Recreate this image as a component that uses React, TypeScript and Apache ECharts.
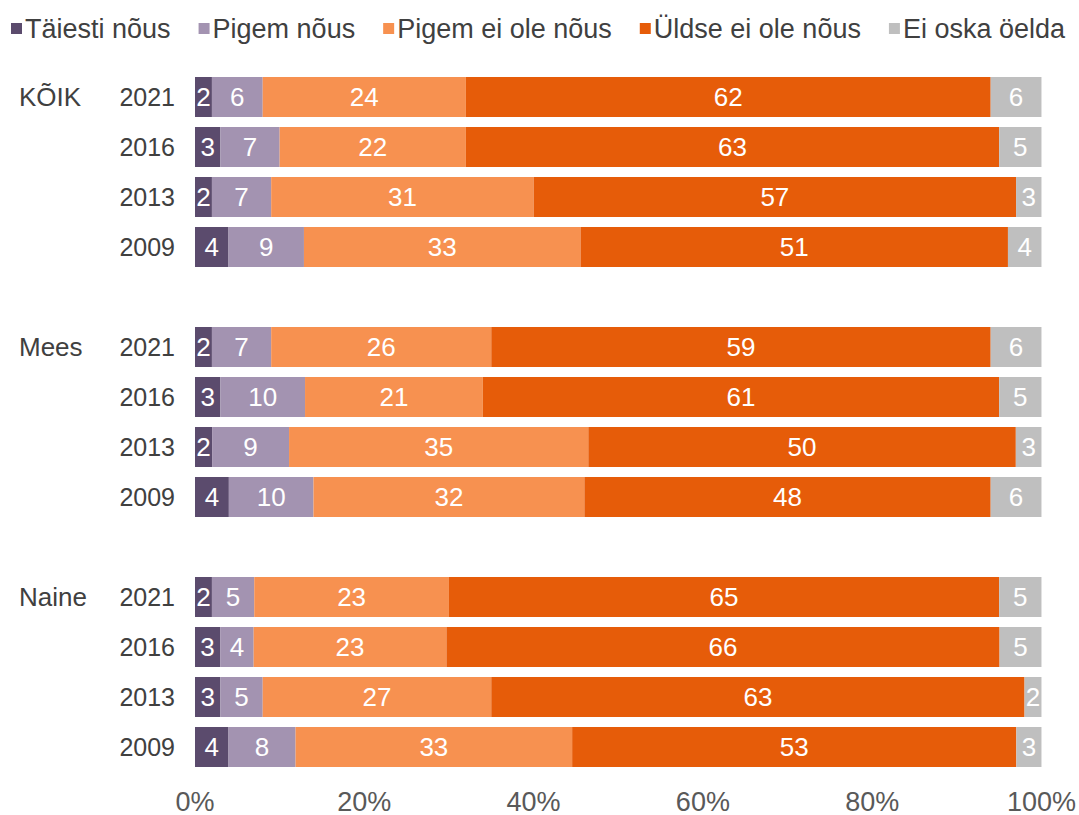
import React, { useEffect, useRef } from "react";
import * as echarts from "echarts";

const seriesNames = ["Täiesti nõus", "Pigem nõus", "Pigem ei ole nõus", "Üldse ei ole nõus", "Ei oska öelda"];
const colors = ["#5b4b6d", "#a393b1", "#f79150", "#e65c09", "#bfbfbf"];

const yearLabels = ["2021", "2016", "2013", "2009", "", "2021", "2016", "2013", "2009", "", "2021", "2016", "2013", "2009"];
const groupLabels = ["KÕIK", "", "", "", "", "Mees", "", "", "", "", "Naine", "", "", ""];

// rows: [Täiesti nõus, Pigem nõus, Pigem ei ole nõus, Üldse ei ole nõus, Ei oska öelda]; null = spacer row
const rows: (number[] | null)[] = [
  [2, 6, 24, 62, 6],
  [3, 7, 22, 63, 5],
  [2, 7, 31, 57, 3],
  [4, 9, 33, 51, 4],
  null,
  [2, 7, 26, 59, 6],
  [3, 10, 21, 61, 5],
  [2, 9, 35, 50, 3],
  [4, 10, 32, 48, 6],
  null,
  [2, 5, 23, 65, 5],
  [3, 4, 23, 66, 5],
  [3, 5, 27, 63, 2],
  [4, 8, 33, 53, 3],
];

const FONT = "'Liberation Sans Narrow', 'Arial Narrow', 'Liberation Sans', Arial, sans-serif";

export default function App() {
  const ref = useRef<HTMLDivElement>(null);
  useEffect(() => {
    const chart = echarts.init(ref.current!, undefined, { renderer: "svg" });
    const series = seriesNames.map((name, si) => ({
      name,
      type: "bar",
      stack: "total",
      barWidth: 40,
      itemStyle: { color: colors[si] },
      label: {
        show: true,
        position: "inside",
        color: "#ffffff",
        fontFamily: FONT,
        fontSize: 26,
        formatter: (p: any) => String(p.data.raw),
      },
      data: rows.map((r) => {
        if (!r) return { value: "-", raw: "" };
        const sum = r.reduce((a, b) => a + b, 0);
        return { value: (r[si] / sum) * 100, raw: r[si] };
      }),
    }));
    chart.setOption({
      animation: false,
      textStyle: { fontFamily: FONT },
      legend: {
        top: 10,
        left: 6,
        icon: "rect",
        itemWidth: 11,
        itemHeight: 11,
        itemGap: 28,
        textStyle: { fontSize: 27, color: "#404040", fontFamily: FONT, padding: [0, 0, 0, -2] },
        data: seriesNames,
      },
      grid: { left: 195, right: 36, top: 72, bottom: 41, containLabel: false },
      xAxis: {
        type: "value",
        min: 0,
        max: 100,
        interval: 20,
        axisLine: { show: false },
        axisTick: { show: false },
        splitLine: { show: false },
        axisLabel: { formatter: "{value}%", fontSize: 27, color: "#595959", margin: 16, fontFamily: FONT },
      },
      yAxis: [
        {
          type: "category",
          inverse: true,
          data: yearLabels,
          axisLine: { show: false },
          axisTick: { show: false },
          axisLabel: { fontSize: 25, color: "#404040", margin: 20, fontFamily: FONT, interval: 0 },
        },
        {
          type: "category",
          inverse: true,
          position: "left",
          data: groupLabels,
          axisLine: { show: false },
          axisTick: { show: false },
          axisLabel: { fontSize: 26, color: "#404040", margin: 176, align: "left", fontFamily: FONT, interval: 0 },
        },
      ],
      series,
    });
    return () => chart.dispose();
  }, []);
  return <div ref={ref} style={{ width: 1079, height: 815, position: "absolute", left: 0, top: 0 }} />;
}
